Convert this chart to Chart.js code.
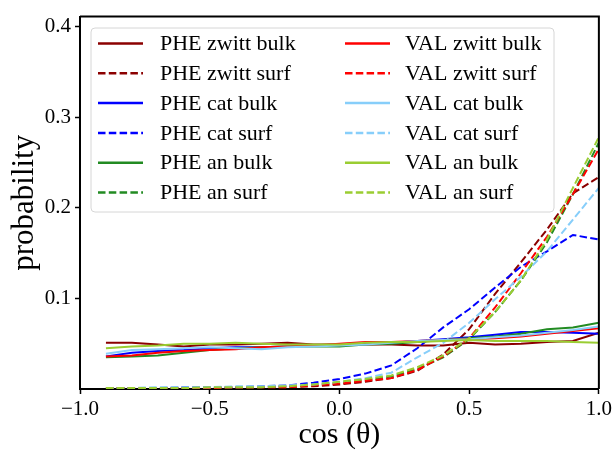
<!DOCTYPE html>
<html lang="en">
<head>
<meta charset="UTF-8">
<title>probability vs cos(theta)</title>
<script src="https://cdn.jsdelivr.net/npm/chart.js"></script>
<style>
  html, body { margin: 0; padding: 0; background: #fff; }
</style>
</head>
<body>
<canvas id="chart" width="615" height="453"></canvas>
<script>
// bin centres of cos(theta)
const cosTheta = [-0.9, -0.8, -0.7, -0.6, -0.5, -0.4, -0.3, -0.2, -0.1, 0.0,
                  0.1, 0.2, 0.3, 0.4, 0.5, 0.6, 0.7, 0.8, 0.9, 1.0];

const pheZwittBulk = [0.051, 0.051, 0.049, 0.047, 0.049, 0.049, 0.050, 0.051, 0.049, 0.049,
                      0.049, 0.049, 0.048, 0.048, 0.051, 0.049, 0.050, 0.052, 0.053, 0.062];
const pheZwittSurf = [0.001, 0.001, 0.001, 0.001, 0.001, 0.001, 0.002, 0.002, 0.003, 0.005,
                      0.008, 0.012, 0.020, 0.038, 0.066, 0.105, 0.140, 0.176, 0.216, 0.234];
const pheCatBulk   = [0.036, 0.040, 0.042, 0.043, 0.045, 0.046, 0.046, 0.047, 0.048, 0.049,
                      0.050, 0.051, 0.053, 0.055, 0.057, 0.060, 0.063, 0.063, 0.062, 0.061];
const pheCatSurf   = [0.001, 0.001, 0.001, 0.002, 0.002, 0.002, 0.003, 0.004, 0.007, 0.011,
                      0.017, 0.026, 0.045, 0.068, 0.088, 0.112, 0.135, 0.152, 0.170, 0.165];
const pheAnBulk    = [0.035, 0.036, 0.037, 0.040, 0.043, 0.045, 0.046, 0.047, 0.047, 0.047,
                      0.049, 0.050, 0.052, 0.054, 0.056, 0.058, 0.061, 0.066, 0.068, 0.073];
const pheAnSurf    = [0.001, 0.001, 0.001, 0.001, 0.001, 0.002, 0.002, 0.003, 0.005, 0.007,
                      0.010, 0.014, 0.022, 0.035, 0.055, 0.085, 0.120, 0.162, 0.215, 0.272];
const valZwittBulk = [0.036, 0.037, 0.040, 0.042, 0.043, 0.044, 0.046, 0.047, 0.048, 0.050,
                      0.052, 0.052, 0.053, 0.054, 0.055, 0.056, 0.058, 0.061, 0.064, 0.067];
const valZwittSurf = [0.001, 0.001, 0.001, 0.001, 0.001, 0.002, 0.002, 0.002, 0.004, 0.006,
                      0.009, 0.012, 0.021, 0.036, 0.056, 0.090, 0.128, 0.168, 0.215, 0.265];
const valCatBulk   = [0.039, 0.043, 0.044, 0.045, 0.046, 0.045, 0.044, 0.046, 0.047, 0.048,
                      0.049, 0.051, 0.053, 0.054, 0.055, 0.057, 0.059, 0.062, 0.065, 0.069];
const valCatSurf   = [0.001, 0.001, 0.002, 0.002, 0.002, 0.003, 0.003, 0.004, 0.005, 0.008,
                      0.012, 0.018, 0.035, 0.051, 0.073, 0.099, 0.124, 0.152, 0.187, 0.222];
const valAnBulk    = [0.045, 0.047, 0.048, 0.050, 0.050, 0.051, 0.050, 0.049, 0.049, 0.049,
                      0.051, 0.052, 0.052, 0.053, 0.054, 0.053, 0.053, 0.053, 0.052, 0.051];
const valAnSurf    = [0.001, 0.001, 0.001, 0.001, 0.002, 0.002, 0.002, 0.003, 0.005, 0.008,
                      0.011, 0.015, 0.024, 0.037, 0.056, 0.085, 0.120, 0.165, 0.222, 0.278];

const xTicks = [-1.0, -0.5, 0.0, 0.5, 1.0];
const yTicks = [0.1, 0.2, 0.3, 0.4];

const series = [
  { label: 'PHE zwitt bulk', data: pheZwittBulk, color: '#8b0000', dashed: false },
  { label: 'PHE zwitt surf', data: pheZwittSurf, color: '#8b0000', dashed: true },
  { label: 'PHE cat bulk',   data: pheCatBulk,   color: '#0000ff', dashed: false },
  { label: 'PHE cat surf',   data: pheCatSurf,   color: '#0000ff', dashed: true },
  { label: 'PHE an bulk',    data: pheAnBulk,    color: '#228b22', dashed: false },
  { label: 'PHE an surf',    data: pheAnSurf,    color: '#228b22', dashed: true },
  { label: 'VAL zwitt bulk', data: valZwittBulk, color: '#ff0000', dashed: false },
  { label: 'VAL zwitt surf', data: valZwittSurf, color: '#ff0000', dashed: true },
  { label: 'VAL cat bulk',   data: valCatBulk,   color: '#87cefa', dashed: false },
  { label: 'VAL cat surf',   data: valCatSurf,   color: '#87cefa', dashed: true },
  { label: 'VAL an bulk',    data: valAnBulk,    color: '#9acd32', dashed: false },
  { label: 'VAL an surf',    data: valAnSurf,    color: '#9acd32', dashed: true }
];

const DASH = [7.5, 3.3];
const SERIF = '"Liberation Serif", "DejaVu Serif", serif';

const datasets = series.map((s, i) => ({
  label: s.label,
  data: cosTheta.map((x, j) => ({ x: x, y: s.data[j] })),
  borderColor: s.color,
  backgroundColor: s.color,
  borderWidth: 2,
  borderDash: s.dashed ? DASH : [],
  pointRadius: 0,
  tension: 0,
  fill: false,
  order: series.length - i   // later series drawn on top, like matplotlib
}));

// legend inside the axes (two columns, filled column by column) + top/right spines
const boxLegend = {
  id: 'boxLegend',
  afterDatasetsDraw(chart) {
    const ctx = chart.ctx;
    const a = chart.chartArea;
    ctx.save();
    ctx.strokeStyle = '#000';
    ctx.lineWidth = 2;
    ctx.beginPath();
    ctx.moveTo(a.left, a.top);
    ctx.lineTo(a.right, a.top);
    ctx.lineTo(a.right, a.bottom);
    ctx.stroke();

    const bx = 91, by = 28, bw = 463, bh = 184, r = 4;
    ctx.beginPath();
    ctx.moveTo(bx + r, by);
    ctx.arcTo(bx + bw, by, bx + bw, by + bh, r);
    ctx.arcTo(bx + bw, by + bh, bx, by + bh, r);
    ctx.arcTo(bx, by + bh, bx, by, r);
    ctx.arcTo(bx, by, bx + bw, by, r);
    ctx.closePath();
    ctx.fillStyle = 'rgba(255,255,255,0.8)';
    ctx.fill();
    ctx.strokeStyle = '#d6d6d6';
    ctx.lineWidth = 1;
    ctx.stroke();

    ctx.font = '22px ' + SERIF;
    ctx.textBaseline = 'middle';
    ctx.textAlign = 'left';
    chart.data.datasets.forEach((ds, i) => {
      const col = i < 6 ? 0 : 1;
      const row = i % 6;
      const y = 43.5 + row * 29.8;
      const x0 = col ? 345 : 98;
      ctx.strokeStyle = ds.borderColor;
      ctx.lineWidth = 2.5;
      ctx.setLineDash(ds.borderDash);
      ctx.beginPath();
      ctx.moveTo(x0, y);
      ctx.lineTo(x0 + 45, y);
      ctx.stroke();
      ctx.setLineDash([]);
      ctx.fillStyle = '#000';
      ctx.fillText(ds.label, col ? 405 : 160, y + 1);
    });
    ctx.restore();
  }
};

const fmt = v => v.toFixed(1).replace('-', '\u2212');

new Chart(document.getElementById('chart'), {
  type: 'line',
  data: { datasets: datasets },
  options: {
    responsive: false,
    animation: false,
    devicePixelRatio: 1,
    layout: { padding: { top: 16, right: 14, left: 0, bottom: 0 } },
    plugins: { legend: { display: false }, tooltip: { enabled: false } },
    scales: {
      x: {
        type: 'linear',
        min: -1, max: 1,
        afterBuildTicks: s => { s.ticks = xTicks.map(v => ({ value: v })); },
        afterFit: s => { s.height = 64; },
        ticks: { callback: v => fmt(v), color: '#000', font: { size: 21, family: SERIF }, maxRotation: 0, padding: 3 },
        grid: { drawOnChartArea: false, tickLength: 5, tickColor: '#000', tickWidth: 1.5 },
        border: { color: '#000', width: 2 },
        title: { display: true, text: 'cos (\u03b8)', color: '#000', font: { size: 30, family: SERIF }, padding: { top: 0, bottom: 0 } }
      },
      y: {
        min: 0, max: 0.411,
        afterBuildTicks: s => { s.ticks = yTicks.map(v => ({ value: v })); },
        afterFit: s => { s.width = 80; },
        ticks: { callback: v => v.toFixed(1), color: '#000', font: { size: 21, family: SERIF }, padding: 4 },
        grid: { drawOnChartArea: false, tickLength: 5, tickColor: '#000', tickWidth: 1.5 },
        border: { color: '#000', width: 2 },
        title: { display: true, text: 'probability', color: '#000', font: { size: 31, family: SERIF }, padding: { top: 6, bottom: 0 } }
      }
    }
  },
  plugins: [boxLegend]
});
</script>
</body>
</html>
